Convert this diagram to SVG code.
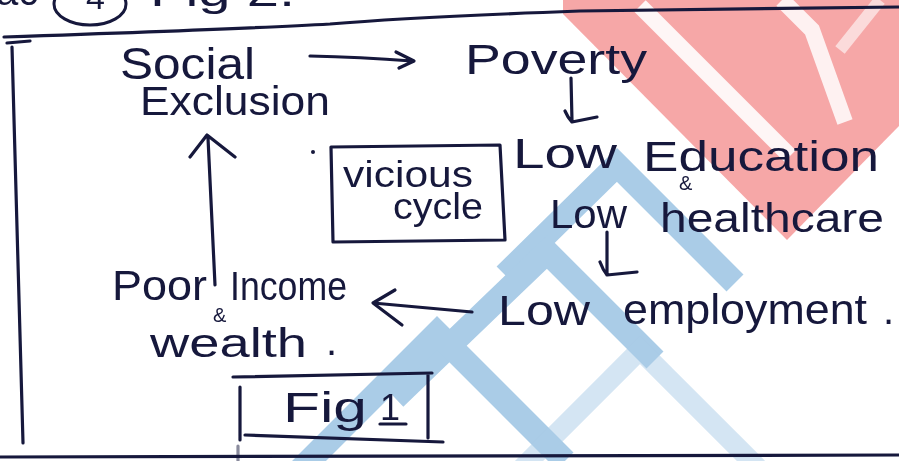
<svg xmlns="http://www.w3.org/2000/svg" width="899" height="461" viewBox="0 0 899 461">
<style>
.t{font-family:"Liberation Sans","DejaVu Sans",sans-serif;fill:#16183c;}
.ln{fill:none;stroke:#16183c;stroke-width:3.2;stroke-linecap:round;stroke-linejoin:round;}
.bl{fill:none;stroke:#a6cae6;stroke-linejoin:miter;stroke-linecap:butt;}
.wh{fill:none;stroke:#ffffff;stroke-linecap:butt;}
</style>
<rect width="899" height="461" fill="#ffffff"/>
<!-- watermark -->
<g id="watermark" opacity="0.95">
  <polygon points="563,0 899,0 899,126 787,240 563,14" fill="#f6a3a3"/>
  <polyline class="wh" points="640,6 790,156" stroke-width="16" opacity="0.9"/>
  <polyline class="wh" points="782,0 812,30 845,122" stroke-width="16" opacity="0.85"/>
  <polyline class="wh" points="880,0 840,50" stroke-width="12" opacity="0.6"/>
  <polyline class="bl" points="505,275 617,165 735,283" stroke-width="24"/>
  <polyline class="bl" points="395,398 547,252 655,360" stroke-width="24"/>
  <polyline class="bl" points="300,470 437,333 565,461" stroke-width="24"/>
  <polyline class="bl" points="520,470 640,350 760,470" stroke-width="20" opacity="0.5"/>
</g>
<!-- frame -->
<g id="frame">
  <path class="ln" d="M4,37 C120,33 260,28 330,24 C400,18 470,15 580,11 L899,7" stroke-width="3.5"/>
  <path class="ln" d="M7,43 L30,41"/>
  <path class="ln" d="M12,47 L23,443"/>
  <path class="ln" d="M0,457 L899,455" stroke-width="4"/>
  <text class="t" x="-4" y="5" font-size="40">ac</text>
  <ellipse cx="90" cy="4" rx="36" ry="21" fill="none" stroke="#16183c" stroke-width="3"/>
  <text class="t" x="86" y="9" font-size="34">4</text>
  <text class="t" x="150" y="6" font-size="40" textLength="145" lengthAdjust="spacingAndGlyphs">Fig 2.</text>
</g>
<g id="connectors">
  <path class="ln" d="M310,56 Q360,57 412,61 M396,52 L414,61 L399,68"/>
  <path class="ln" d="M571,78 L572,121 M565,111 Q568,118 572,122 L597,117"/>
  <path class="ln" d="M607,232 L607,275 M600,262 Q603,270 607,275 L637,272"/>
  <path class="ln" d="M472,312 L373,303 M395,290 L373,303 L402,325"/>
  <path class="ln" d="M215,285 L208,138 M190,157 L207,135 L235,157"/>
</g>
<g id="node-social-exclusion">
  <text class="t" x="120" y="79" font-size="44" textLength="135" lengthAdjust="spacingAndGlyphs">Social</text>
  <text class="t" x="140" y="115" font-size="40" textLength="190" lengthAdjust="spacingAndGlyphs">Exclusion</text>
</g>
<g id="node-poverty">
  <text class="t" x="465" y="74" font-size="42" textLength="182" lengthAdjust="spacingAndGlyphs">Poverty</text>
</g>
<g id="node-low-education-health">
  <text class="t" x="513" y="168" font-size="42" textLength="104" lengthAdjust="spacingAndGlyphs">Low</text>
  <text class="t" x="643" y="171" font-size="42" textLength="236" lengthAdjust="spacingAndGlyphs">Education</text>
  <text class="t" x="679" y="190" font-size="20">&amp;</text>
  <text class="t" x="550" y="228" font-size="40" textLength="77" lengthAdjust="spacingAndGlyphs">Low</text>
  <text class="t" x="660" y="232" font-size="40" textLength="224" lengthAdjust="spacingAndGlyphs">healthcare</text>
</g>
<g id="node-vicious-cycle">
  <path class="ln" d="M331,147 L500,145 L505,240 L333,242 Z"/>
  <text class="t" x="343" y="187" font-size="36" textLength="130" lengthAdjust="spacingAndGlyphs">vicious</text>
  <text class="t" x="393" y="219" font-size="36" textLength="90" lengthAdjust="spacingAndGlyphs">cycle</text>
  <circle cx="313" cy="152" r="2" fill="#16183c"/>
</g>
<g id="node-low-employment">
  <text class="t" x="498" y="325" font-size="42" textLength="92" lengthAdjust="spacingAndGlyphs">Low</text>
  <text class="t" x="623" y="324" font-size="42" textLength="244" lengthAdjust="spacingAndGlyphs">employment</text>
  <text class="t" x="883" y="324" font-size="40">.</text>
</g>
<g id="node-poor-income">
  <text class="t" x="112" y="300" font-size="42" textLength="95" lengthAdjust="spacingAndGlyphs">Poor</text>
  <text class="t" x="230" y="300" font-size="40" textLength="117" lengthAdjust="spacingAndGlyphs">Income</text>
  <text class="t" x="213" y="322" font-size="20">&amp;</text>
  <text class="t" x="150" y="357" font-size="40" textLength="157" lengthAdjust="spacingAndGlyphs">wealth</text>
  <text class="t" x="326" y="355" font-size="40">.</text>
</g>
<g id="node-fig1">
  <path class="ln" d="M233,377 L432,373 M240,387 L240,440 M428,375 L428,438 M245,435 L443,442"/>
  <path class="ln" d="M238,446 L238,461" stroke-width="2" opacity="0.5"/>
  <text class="t" x="283" y="422" font-size="42" textLength="84" lengthAdjust="spacingAndGlyphs">Fig</text>
  <text class="t" x="380" y="420" font-size="36">1</text>
  <path class="ln" d="M380,424 L406,424"/>
</g>
</svg>
